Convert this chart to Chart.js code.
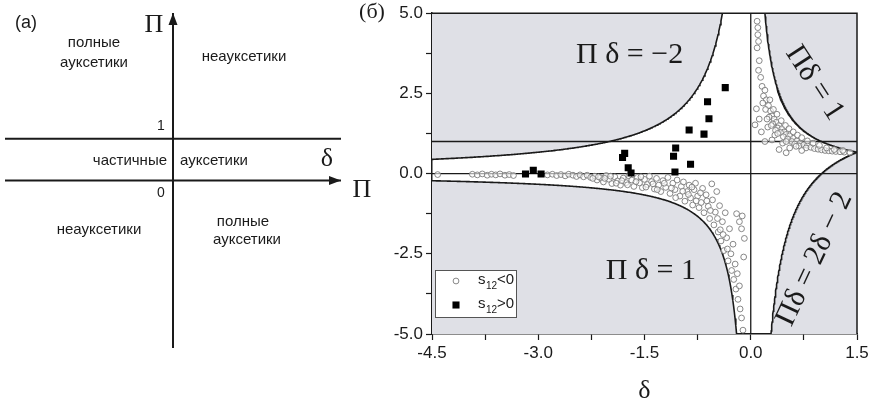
<!DOCTYPE html>
<html>
<head>
<meta charset="utf-8">
<script src="https://cdn.jsdelivr.net/npm/chart.js@4.4.0/dist/chart.umd.js"></script>
<style>
html, body { margin: 0; padding: 0; background: #fff; }
body { width: 883px; height: 409px; position: relative; overflow: hidden; }
#chartA { position: absolute; left: 0; top: 0; }
#chartB { position: absolute; left: 340px; top: 0; }
</style>
</head>
<body>
<canvas id="chartA" width="360" height="409"></canvas>
<canvas id="chartB" width="543" height="409"></canvas>
<script>
// ---- dados do painel (б) ----
const deltaRange = [-4.5, 1.5];
const piRange = [-5, 5];

// s12 > 0 (quadrados pretos), [δ, Π]
const posS12 = [
    [-0.36, 2.68], [-0.61, 2.24], [-0.59, 1.71], [-0.87, 1.36], [-0.66, 1.23],
    [-1.06, 0.80], [-1.09, 0.54], [-0.85, 0.29], [-1.07, 0.05],
    [-1.78, 0.63], [-1.81, 0.50], [-1.73, 0.18], [-1.69, 0.02],
    [-3.18, -0.01], [-3.07, 0.10], [-2.96, -0.01]
];

// s12 < 0 (círculos abertos), [δ, Π]
const negS12 = [
    [-4.42, -0.03], [-3.93, -0.02], [-3.86, -0.04], [-3.79, -0.01], [-3.72, -0.05], [-3.66, -0.02],
    [-3.60, -0.04], [-3.54, -0.01], [-3.47, -0.05], [-3.41, -0.03], [-3.35, -0.06],
    [-2.87, -0.04], [-2.80, -0.02], [-2.74, -0.06], [-2.68, -0.03], [-2.62, -0.07], [-2.57, -0.02],
    [-2.51, -0.05], [-2.46, -0.09], [-2.41, -0.04], [-2.36, -0.10], [-2.31, -0.05], [-2.26, -0.12],
    [-2.20, -0.08], [-2.17, -0.20], [-2.12, -0.13], [-2.08, -0.26], [-2.04, -0.06], [-2.00, -0.18],
    [-1.96, -0.31], [-1.92, -0.10], [-1.88, -0.23], [-1.84, -0.36], [-1.80, -0.14], [-1.76, -0.28],
    [-1.72, -0.07], [-1.68, -0.20], [-1.65, -0.40], [-1.60, -0.12], [-1.57, -0.29], [-1.53, -0.44],
    [-1.50, -0.18], [-1.46, -0.34], [-1.43, -0.08], [-1.40, -0.25], [-1.36, -0.48], [-1.33, -0.15],
    [-1.30, -0.36], [-1.27, -0.56], [-1.24, -0.22], [-1.20, -0.43], [-1.17, -0.12], [-1.14, -0.62],
    [-1.10, -0.30], [-1.07, -0.50], [-1.04, -0.20], [-1.00, -0.70], [-0.98, -0.40], [-0.95, -0.26],
    [-0.93, -0.86], [-0.90, -0.56], [-0.87, -0.36], [-0.85, -0.76], [-0.82, -0.98], [-0.80, -0.50],
    [-0.78, -0.30], [-0.75, -0.70], [-0.73, -1.06], [-0.70, -0.90], [-0.68, -0.46], [-0.66, -1.22],
    [-0.63, -0.66], [-0.60, -1.02], [-0.58, -1.40], [-0.55, -0.32], [-0.54, -0.82], [-0.52, -1.60],
    [-0.50, -1.20], [-0.48, -0.56], [-0.46, -1.82], [-0.44, -1.00], [-0.42, -2.10], [-0.40, -1.50],
    [-0.38, -2.40], [-0.36, -1.22], [-0.34, -2.00], [-0.32, -2.72], [-0.30, -1.72], [-0.28, -2.50],
    [-0.27, -3.02], [-0.25, -2.20], [-0.24, -3.30], [-0.22, -2.82], [-0.21, -3.60], [-0.19, -3.12],
    [-0.18, -3.92], [-0.16, -3.50], [-0.15, -4.22], [-0.13, -4.50], [-0.11, -4.88], [-0.12, -1.32],
    [-0.13, -1.72], [-0.09, -2.02], [-0.16, -1.50], [-0.20, -1.25], [-0.10, -2.60],
    [-2.23, -0.15], [-2.15, -0.10], [-2.06, -0.15], [-1.98, -0.08], [-1.90, -0.30], [-1.82, -0.22],
    [-1.74, -0.35], [-1.62, -0.25], [-1.55, -0.10], [-1.48, -0.42], [-1.38, -0.32], [-1.32, -0.50],
    [-1.22, -0.30], [-1.12, -0.45], [-1.06, -0.75], [-0.96, -0.55], [-0.88, -0.65], [-0.83, -0.42],
    [-0.77, -0.85], [-0.71, -0.60], [-0.62, -0.85], [-0.57, -1.15], [-0.47, -1.40], [-0.43, -1.75],
    [-0.39, -1.90], [-0.33, -2.35],
    [0.09, 4.75], [0.10, 4.55], [0.10, 4.33], [0.11, 4.12], [0.09, 3.92], [0.12, 3.52], [0.11, 3.22],
    [0.14, 3.00], [0.16, 2.72], [0.20, 2.60], [0.18, 2.42], [0.22, 2.30], [0.25, 2.12], [0.21, 2.00],
    [0.28, 1.95], [0.30, 1.80], [0.26, 1.76], [0.33, 1.70], [0.36, 1.60], [0.31, 1.55], [0.40, 1.50],
    [0.38, 1.42], [0.44, 1.40], [0.35, 1.35], [0.47, 1.30], [0.42, 1.28], [0.50, 1.22], [0.55, 1.18],
    [0.46, 1.15], [0.52, 1.08], [0.60, 1.10], [0.58, 1.00], [0.65, 1.02], [0.62, 0.92], [0.70, 0.95],
    [0.68, 0.86], [0.75, 0.90], [0.80, 0.88], [0.78, 0.80], [0.85, 0.82], [0.90, 0.78], [0.95, 0.76],
    [1.00, 0.74], [1.05, 0.72], [1.10, 0.71], [1.15, 0.70], [1.20, 0.69], [1.26, 0.68], [1.32, 0.67],
    [1.40, 0.66], [0.08, 2.02], [0.06, 1.52], [0.15, 1.30], [0.30, 1.05], [0.50, 0.65], [0.55, 0.80],
    [0.40, 0.75], [0.72, 0.72], [0.20, 1.00], [0.12, 1.70], [0.24, 1.45], [0.34, 1.20], [0.45, 0.95],
    [0.27, 2.30], [0.32, 2.00], [0.37, 1.85], [0.43, 1.65], [0.49, 1.50], [0.54, 1.40], [0.60, 1.30],
    [0.66, 1.20], [0.72, 1.12], [0.80, 1.02], [0.88, 0.95], [0.97, 0.88], [1.07, 0.80], [1.18, 0.75],
    [1.30, 0.72], [0.17, 2.20], [0.23, 1.70], [0.29, 1.50], [0.38, 1.25], [0.50, 1.00], [0.64, 0.85]
];

// linhas de referência Π = 0, Π = 1 e δ = 0
const refPiLevels = [0, 1];
const refDeltaLevels = [0];

// ---- dados do painel (a) (esquema) ----
const schemeRange = [-4, 4];
const schemeDeltaAxis = [[-4, 0], [4, 0]];
const schemeLevelOne = [[-4, 1], [4, 1]];
const schemePiAxis = [[0, -4], [0, 4]];

const toPts = arr => arr.map(([x, y]) => ({ x, y }));

// fronteiras teóricas, dadas pelas equações escritas no gráfico
function boundary(d0, d1, fn, n) {
    const pts = [];
    for (let i = 0; i <= n; i++) {
        const d = d0 + (d1 - d0) * i / n;
        pts.push({ x: d, y: fn(d) });
    }
    return pts;
}

const SANS = 'Liberation Sans, Arial, sans-serif';
const SERIF = 'Liberation Serif, Times New Roman, serif';
const INK = '#1a1a1a';
const GRAY_FILL = '#dfe0e6';

const isMajor = (v, step) => Math.abs(v / step - Math.round(v / step)) < 1e-6;
const fmt = v => (Math.abs(v) < 1e-9 ? 0 : v).toFixed(1);

function text(ctx, str, px, py, font, angle, align) {
    ctx.save();
    ctx.translate(px, py);
    if (angle) ctx.rotate(angle * Math.PI / 180);
    ctx.font = font;
    ctx.fillStyle = INK;
    ctx.textAlign = align || 'center';
    ctx.textBaseline = 'middle';
    ctx.fillText(str, 0, 0);
    ctx.restore();
}

// ---------- painel (б) ----------
const bNotes = {
    id: 'bNotes',
    afterDraw(chart) {
        const { ctx, chartArea: a, scales: { x, y } } = chart;
        ctx.save();
        // moldura superior e direita
        ctx.strokeStyle = INK;
        ctx.lineWidth = 1.5;
        ctx.beginPath();
        ctx.moveTo(a.left, a.top);
        ctx.lineTo(a.right, a.top);
        ctx.lineTo(a.right, a.bottom);
        ctx.stroke();

        const big = '30px ' + SERIF;
        text(ctx, 'Π δ = −2', x.getPixelForValue(-1.71), y.getPixelForValue(3.68), big);
        text(ctx, 'Π δ = 1', x.getPixelForValue(-1.41), y.getPixelForValue(-3.03), big);
        text(ctx, 'Πδ = 1', x.getPixelForValue(0.9), y.getPixelForValue(2.82), big, 57);
        text(ctx, 'Πδ = 2δ − 2', x.getPixelForValue(0.9), y.getPixelForValue(-2.66), big, -65);

        text(ctx, '(б)', 32, 12, '22px ' + SERIF);
        text(ctx, 'Π', 22, 190, '26px ' + SERIF);

        // legenda
        const bx = a.left + 3, by = a.bottom - 64, bw = 81, bh = 47;
        ctx.fillStyle = '#fff';
        ctx.fillRect(bx, by, bw, bh);
        ctx.strokeStyle = '#555';
        ctx.lineWidth = 1;
        ctx.strokeRect(bx + 0.5, by + 0.5, bw, bh);
        const rows = [
            { ds: 1, yy: by + 11, sign: '<0' },
            { ds: 0, yy: by + 35, sign: '>0' }
        ];
        rows.forEach(r => {
            const o = chart.getDatasetMeta(r.ds).controller.getStyle(0);
            ctx.save();
            ctx.strokeStyle = o.borderColor;
            ctx.fillStyle = o.backgroundColor;
            ctx.lineWidth = o.borderWidth;
            Chart.helpers.drawPoint(ctx, { pointStyle: o.pointStyle, radius: o.radius, borderWidth: o.borderWidth, rotation: 0 }, bx + 21, r.yy);
            ctx.restore();
            ctx.fillStyle = INK;
            ctx.textBaseline = 'middle';
            ctx.textAlign = 'left';
            ctx.font = '15px ' + SANS;
            ctx.fillText('s', bx + 43, r.yy - 1);
            ctx.font = '10px ' + SANS;
            ctx.fillText('12', bx + 51, r.yy + 5);
            ctx.font = '15px ' + SANS;
            ctx.fillText(r.sign, bx + 62, r.yy - 1);
        });
        ctx.restore();
    }
};

const curveStyle = {
    type: 'line',
    borderColor: INK,
    borderWidth: 1.6,
    pointRadius: 0,
    backgroundColor: GRAY_FILL,
    tension: 0,
    order: 3
};

const refStyle = {
    type: 'line',
    borderColor: INK,
    borderWidth: 1.3,
    pointRadius: 0,
    fill: false,
    order: 2
};

const datasetsB = [
    {
        label: 's12>0',
        data: toPts(posS12),
        pointStyle: 'rect',
        pointRadius: 5,
        backgroundColor: '#000',
        borderColor: '#000',
        borderWidth: 0,
        order: 0
    },
    {
        label: 's12<0',
        data: toPts(negS12),
        pointStyle: 'circle',
        pointRadius: 2.9,
        backgroundColor: 'rgba(255,255,255,0.6)',
        borderColor: '#7a7a7a',
        borderWidth: 0.9,
        order: 1
    }
];
refPiLevels.forEach(p => datasetsB.push({ ...refStyle, data: [{ x: deltaRange[0], y: p }, { x: deltaRange[1], y: p }] }));
refDeltaLevels.forEach(d => datasetsB.push({ ...refStyle, data: [{ x: d, y: piRange[0] }, { x: d, y: piRange[1] }] }));
// Πδ = −2 (acima), Πδ = 1 (abaixo à esquerda), Πδ = 1 (acima à direita), Πδ = 2δ − 2 (abaixo à direita)
datasetsB.push({ ...curveStyle, data: boundary(-4.5, -0.4, d => -2 / d, 400), fill: 'end' });
datasetsB.push({ ...curveStyle, data: boundary(-4.5, -0.2, d => 1 / d, 400), fill: 'start' });
datasetsB.push({ ...curveStyle, data: boundary(0.2, 1.5, d => 1 / d, 300), fill: 'end' });
datasetsB.push({ ...curveStyle, data: boundary(2 / 7, 1.5, d => 2 - 2 / d, 300), fill: 'start' });

new Chart(document.getElementById('chartB'), {
    type: 'scatter',
    data: { datasets: datasetsB },
    options: {
        responsive: false,
        animation: false,
        layout: { padding: { left: 32, right: 26, top: 9, bottom: 0 } },
        plugins: {
            legend: { display: false },
            tooltip: { enabled: false },
            filler: { drawTime: 'beforeDatasetsDraw' }
        },
        scales: {
            x: {
                type: 'linear',
                min: deltaRange[0],
                max: deltaRange[1],
                ticks: {
                    stepSize: 0.75,
                    autoSkip: false,
                    maxRotation: 0,
                    padding: 3,
                    color: INK,
                    font: { family: SANS, size: 17 },
                    callback: v => isMajor(v, 1.5) ? fmt(v) : ''
                },
                grid: { drawOnChartArea: false, tickLength: 6, color: INK, tickWidth: 1.2 },
                border: { color: INK, width: 1.5 },
                title: { display: true, text: 'δ', color: INK, font: { family: SERIF, size: 26 }, padding: { top: 6, bottom: 2 } },
                afterFit: s => { s.height = 75; }
            },
            y: {
                type: 'linear',
                min: piRange[0],
                max: piRange[1],
                ticks: {
                    stepSize: 1.25,
                    autoSkip: false,
                    padding: 3,
                    color: INK,
                    font: { family: SANS, size: 17 },
                    callback: v => isMajor(v, 2.5) ? fmt(v) : ''
                },
                grid: { drawOnChartArea: false, tickLength: 6, color: INK, tickWidth: 1.2 },
                border: { color: INK, width: 1.5 },
                afterFit: s => { s.width = 60; }
            }
        }
    },
    plugins: [bNotes]
});

// ---------- painel (a) ----------
const aNotes = {
    id: 'aNotes',
    afterDraw(chart) {
        const { ctx, scales: { x, y } } = chart;
        ctx.save();
        ctx.fillStyle = INK;
        // setas
        const tipX = x.getPixelForValue(schemeDeltaAxis[1][0]), tipY0 = y.getPixelForValue(0);
        ctx.beginPath();
        ctx.moveTo(tipX, tipY0);
        ctx.lineTo(tipX - 12, tipY0 - 4.5);
        ctx.lineTo(tipX - 12, tipY0 + 4.5);
        ctx.closePath();
        ctx.fill();
        const upX = x.getPixelForValue(0), upY = y.getPixelForValue(schemePiAxis[1][1]);
        ctx.beginPath();
        ctx.moveTo(upX, upY);
        ctx.lineTo(upX - 4.5, upY + 12);
        ctx.lineTo(upX + 4.5, upY + 12);
        ctx.closePath();
        ctx.fill();
        ctx.restore();

        const f = '15px ' + SANS;
        text(ctx, '(a)', 26, 23, '18px ' + SANS);
        text(ctx, 'Π', 154, 25, '26px ' + SERIF);
        text(ctx, 'полные', 94, 43, f);
        text(ctx, 'ауксетики', 94, 63, f);
        text(ctx, 'неауксетики', 244, 57, f);
        text(ctx, '1', 161, 126, '14px ' + SANS);
        text(ctx, 'частичные', 167, 161, f, 0, 'right');
        text(ctx, 'ауксетики', 180, 161, f, 0, 'left');
        text(ctx, 'δ', 327, 159, '26px ' + SERIF);
        text(ctx, '0', 161, 193, '14px ' + SANS);
        text(ctx, 'неауксетики', 99, 230, f);
        text(ctx, 'полные', 243, 222, f);
        text(ctx, 'ауксетики', 247, 240, f);
    }
};

const schemeStyle = { type: 'line', borderColor: INK, borderWidth: 2, pointRadius: 0, fill: false };

new Chart(document.getElementById('chartA'), {
    type: 'scatter',
    data: {
        datasets: [
            { ...schemeStyle, data: toPts(schemeDeltaAxis) },
            { ...schemeStyle, data: toPts(schemeLevelOne) },
            { ...schemeStyle, data: toPts(schemePiAxis) }
        ]
    },
    options: {
        responsive: false,
        animation: false,
        layout: { padding: { left: 5, right: 19, top: 13, bottom: 61 } },
        plugins: { legend: { display: false }, tooltip: { enabled: false } },
        scales: {
            x: { type: 'linear', display: false, min: schemeRange[0], max: schemeRange[1] },
            y: { type: 'linear', display: false, min: schemeRange[0], max: schemeRange[1] }
        }
    },
    plugins: [aNotes]
});
</script>
</body>
</html>
